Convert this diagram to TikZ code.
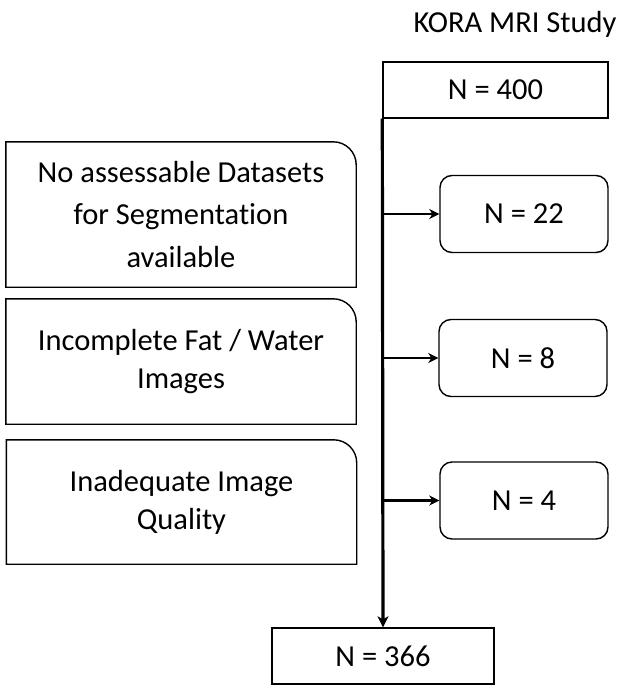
\documentclass[tikz,border=0pt]{standalone}
\usepackage{fontspec}
\setmainfont[Ligatures=NoCommon]{Carlito}
\usetikzlibrary{arrows.meta}
\begin{document}
\begin{tikzpicture}[x=1pt,y=-1pt,
  txt/.style={font=\fontsize{30.5}{38}\selectfont, align=center, inner sep=0pt},
  plainbox/.style={draw, line width=1.4pt, inner sep=0pt, font=\fontsize{30.5}{38}\selectfont},
  roundbox/.style={plainbox, rounded corners=12pt},
  leftbox/.style={inner sep=0pt, font=\fontsize{30.5}{38}\selectfont, align=center},
  edge/.style={line width=1.4pt, rounded corners=0pt},
  trunk/.style={line width=3.2pt, -{Stealth[length=11pt,width=11pt,inset=3pt]}},
  branch/.style={line width=2.3pt, -{Stealth[length=10pt,width=10pt,inset=3pt]}}
]
\useasboundingbox (0,0) rectangle (625,690);

\node[txt, anchor=base] (title) at (515,33) {KORA MRI Study};

\node[plainbox, minimum width=225pt, minimum height=56pt] (n400) at (495.5,90) {N = 400};
\node[plainbox, minimum width=222pt, minimum height=56pt] (n366) at (383,656) {N = 366};

\node[roundbox, minimum width=168pt, minimum height=77pt] (n22) at (524,214) {N = 22};
\node[roundbox, minimum width=168pt, minimum height=77pt] (n8) at (523,358) {N = 8};
\node[roundbox, minimum width=168pt, minimum height=77pt] (n4) at (524,500.5) {N = 4};

% left boxes (outline nodes)
\node[minimum width=350pt, minimum height=145pt, inner sep=0pt] (b1) at (181,214.5) {};
\node[minimum width=350pt, minimum height=125pt, inner sep=0pt] (b2) at (181,361.5) {};
\node[minimum width=350pt, minimum height=124pt, inner sep=0pt] (b3) at (181.5,502) {};
\foreach \b in {b1,b2,b3}{
  \draw[edge] (\b.south west) -- (\b.north west) [rounded corners=23pt] -- (\b.north east) [rounded corners=0pt] -- (\b.south east) -- cycle;
}
\node[leftbox, font=\fontsize{30.5}{42.5}\selectfont] (t1) at (b1) {No assessable Datasets\\for Segmentation\\available};
\node[leftbox] (t2) at (b2) {Incomplete Fat / Water\\Images};
\node[leftbox] (t3) at (b3) {Inadequate Image\\Quality};

% connectors
\draw[trunk] (n400.south west) -- (n366.north);
\draw[branch] (n400.south west |- n22.west) -- (n22.west);
\draw[branch] (n400.south west |- n8.west) -- (n8.west);
\draw[branch] (n400.south west |- n4.west) -- (n4.west);
\end{tikzpicture}
\end{document}
